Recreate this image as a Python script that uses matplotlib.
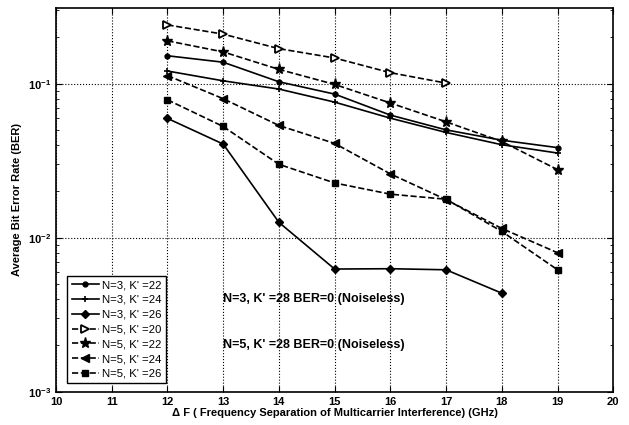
import matplotlib
matplotlib.use("Agg")
import matplotlib.pyplot as plt
from matplotlib.ticker import LogLocator, NullFormatter

plt.rcParams['font.family'] = ['Liberation Sans', 'DejaVu Sans']

# data
df = [12, 13, 14, 15, 16, 17, 18, 19]
n3_k22 = [0.152, 0.138, 0.103, 0.0857, 0.0626, 0.0502, 0.043, 0.0385]
n3_k24 = [0.121, 0.1045, 0.0924, 0.076, 0.0598, 0.0483, 0.0402, 0.0355]
n3_k26 = [0.0596, 0.0406, 0.0126, 0.00627, 0.0063, 0.0062, 0.00437]
n5_k20 = [0.241, 0.210, 0.169, 0.147, 0.118, 0.101]
n5_k22 = [0.190, 0.161, 0.124, 0.099, 0.075, 0.0566, 0.0422, 0.0277]
n5_k24 = [0.113, 0.080, 0.0536, 0.041, 0.026, 0.0177, 0.0115, 0.0080]
n5_k26 = [0.0787, 0.0528, 0.030, 0.0227, 0.0192, 0.0178, 0.0110, 0.0062]

fig = plt.figure(figsize=(6.29, 4.25), dpi=100)
ax = fig.add_axes([0.089, 0.078, 0.886, 0.903])

k = dict(color='black', linewidth=1.2)
ax.plot(df[:len(n3_k22)], n3_k22, '-', marker='o', markersize=3.5, label="N=3, K' =22", **k)
ax.plot(df[:len(n3_k24)], n3_k24, '-', marker='+', markersize=5, mew=1.2, label="N=3, K' =24", **k)
ax.plot(df[:len(n3_k26)], n3_k26, '-', marker='D', markersize=4, label="N=3, K' =26", **k)
ax.plot(df[:len(n5_k20)], n5_k20, '--', marker='>', markersize=6, mfc='white', mew=1.3,
        label="N=5, K' =20", **k)
ax.plot(df[:len(n5_k22)], n5_k22, '--', marker='*', markersize=8, label="N=5, K' =22", **k)
ax.plot(df[:len(n5_k24)], n5_k24, '--', marker='<', markersize=6, label="N=5, K' =24", **k)
ax.plot(df[:len(n5_k26)], n5_k26, '--', marker='s', markersize=4.5, label="N=5, K' =26", **k)

ax.set_yscale('log')
ax.set_xlim(10, 20)
ax.set_ylim(1e-3, 0.31)
ax.set_xticks(range(10, 21))
ax.yaxis.set_major_locator(LogLocator(base=10, numticks=10))
ax.yaxis.set_minor_locator(LogLocator(base=10, subs=range(2, 10), numticks=10))
ax.yaxis.set_minor_formatter(NullFormatter())
ax.tick_params(which='both', direction='in', top=True, right=True, labelsize=8)
ax.tick_params(which='major', length=4)
ax.tick_params(which='minor', length=2)
for lab in ax.get_xticklabels() + ax.get_yticklabels():
    lab.set_fontweight('bold')
ax.grid(True, which='major', color='black', linestyle=':', linewidth=0.8)
for s in ax.spines.values():
    s.set_linewidth(1.2)

ax.set_xlabel('Δ F ( Frequency Separation of Multicarrier Interference) (GHz)',
              fontsize=8, fontweight='bold', labelpad=1)
ax.set_ylabel('Average Bit Error Rate (BER)', fontsize=8, fontweight='bold', labelpad=4)

ax.text(13.0, 0.004, "N=3, K' =28 BER=0 (Noiseless)", fontsize=9, fontweight='bold',
        va='center', ha='left')
ax.text(13.0, 0.002, "N=5, K' =28 BER=0 (Noiseless)", fontsize=9, fontweight='bold',
        va='center', ha='left')

leg = ax.legend(loc='lower left', bbox_to_anchor=(0.02, 0.022), fontsize=8.2,
                fancybox=False, framealpha=1, edgecolor='black', handlelength=2.4,
                labelspacing=0.42, borderpad=0.4, handletextpad=0.3, borderaxespad=0)
leg.get_frame().set_linewidth(1.0)

fig.savefig('out.png', dpi=100)
